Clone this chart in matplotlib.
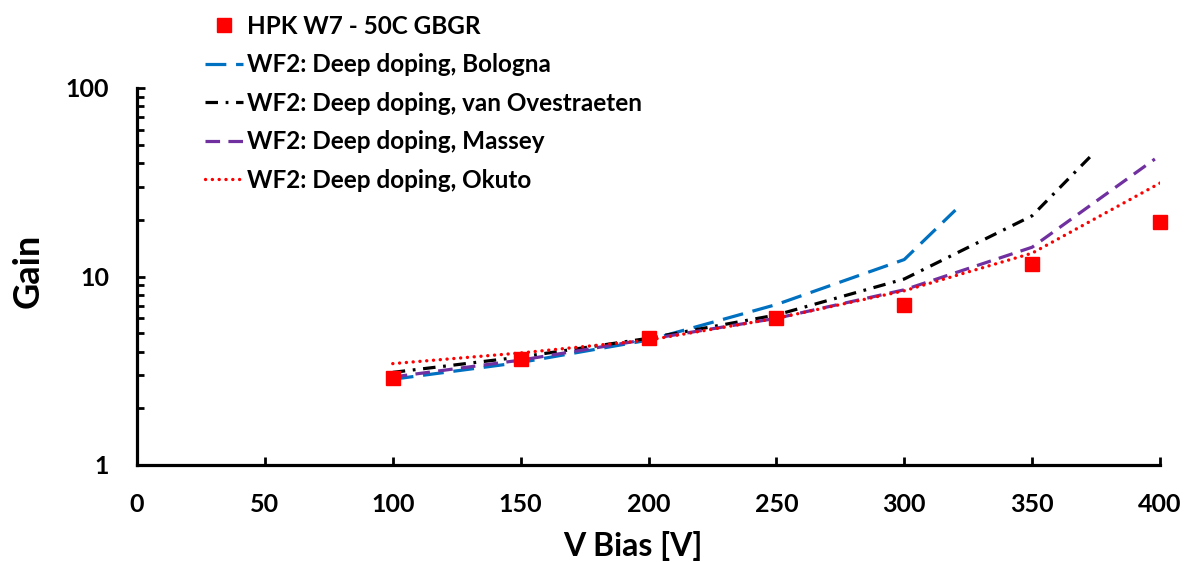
import matplotlib
matplotlib.use("Agg")
import matplotlib.pyplot as plt
from matplotlib import ticker

plt.rcParams['font.family'] = ['Lato', 'DejaVu Sans']
plt.rcParams['font.weight'] = 'bold'
# dash patterns below are given in points, independent of line width
plt.rcParams['lines.scale_dashes'] = False

# Measured gain, HPK W7 at 50C
meas_v = [100, 150, 200, 250, 300, 350, 400]
meas_gain = [2.89, 3.65, 4.72, 6.02, 7.1, 11.6, 19.4]

# WF2 simulations, deep doping, per impact-ionisation model
bologna_v = [100, 150, 200, 250, 300, 320]
bologna_gain = [2.85, 3.5, 4.6, 7.1, 12.3, 22.5]

ovest_v = [100, 150, 200, 250, 300, 350, 374]
ovest_gain = [3.1, 3.74, 4.7, 6.25, 9.7, 21.0, 45.0]

massey_v = [100, 150, 200, 250, 300, 350, 398]
massey_gain = [2.93, 3.6, 4.65, 6.0, 8.5, 14.3, 42.0]

okuto_v = [100, 150, 200, 250, 300, 350, 400]
okuto_gain = [3.45, 3.93, 4.6, 6.0, 8.4, 13.3, 31.3]

labels = [
    "HPK W7 - 50C GBGR",
    "WF2: Deep doping, Bologna",
    "WF2: Deep doping, van Ovestraeten",
    "WF2: Deep doping, Massey",
    "WF2: Deep doping, Okuto",
]
x_ticks = [0, 50, 100, 150, 200, 250, 300, 350, 400]

W, H = 1185, 562
fig = plt.figure(figsize=(W / 100, H / 100), dpi=100)
ax = fig.add_axes([137 / W, 97 / H, (1160 - 137) / W, (465 - 88) / H])

ax.plot(bologna_v, bologna_gain, color='#0070C0', lw=2.3,
        linestyle=(0, (15, 7)), label=labels[1])
ax.plot(ovest_v, ovest_gain, color='black', lw=2.3,
        linestyle=(0, (9, 5.5, 2, 5.5)), label=labels[2])
ax.plot(massey_v, massey_gain, color='#7030A0', lw=2.3,
        linestyle=(0, (10.5, 6)), label=labels[3])
ax.plot(okuto_v, okuto_gain, color='#FF0000', lw=2.4,
        linestyle=(0, (0.1, 4.8)), dash_capstyle='round', label=labels[4])
ax.plot(meas_v, meas_gain, linestyle='none', marker='s', markersize=10,
        color='#FF0000', clip_on=False, zorder=5, label=labels[0])

ax.set_yscale('log')
ax.set_ylim(1, 100)
ax.set_xlim(0, 400)
ax.set_xticks(x_ticks)
ax.yaxis.set_major_formatter(ticker.FuncFormatter(lambda v, p: f"{v:g}"))
ax.yaxis.set_minor_locator(ticker.LogLocator(base=10, subs=range(2, 10)))
ax.yaxis.set_minor_formatter(ticker.NullFormatter())

for s in ['top', 'right']:
    ax.spines[s].set_visible(False)
for s in ['left', 'bottom']:
    ax.spines[s].set_linewidth(2.3)

ax.tick_params(axis='both', which='major', direction='in', length=6,
               width=2, labelsize=18)
ax.tick_params(axis='x', pad=20)
ax.tick_params(axis='y', which='major', pad=20)
ax.tick_params(axis='y', which='minor', direction='in', length=5, width=2)

ax.set_xlabel("V Bias [V]", fontsize=23, fontweight='bold', labelpad=11)
ax.set_ylabel("Gain", fontsize=26, fontweight='bold', labelpad=15)
ax.xaxis.label.set_x(0.485)
ax.yaxis.label.set_y(0.515)

handles, lbls = ax.get_legend_handles_labels()
order = [4, 0, 1, 2, 3]
fig.legend([handles[i] for i in order], [lbls[i] for i in order],
           loc='upper left', bbox_to_anchor=(190 / W, 1.0), frameon=False,
           handlelength=1.56, handletextpad=0.2,
           labelspacing=0.64, borderaxespad=0.2, numpoints=1,
           prop={'weight': 'bold', 'size': 17.5})

fig.savefig("out.png", dpi=100)
